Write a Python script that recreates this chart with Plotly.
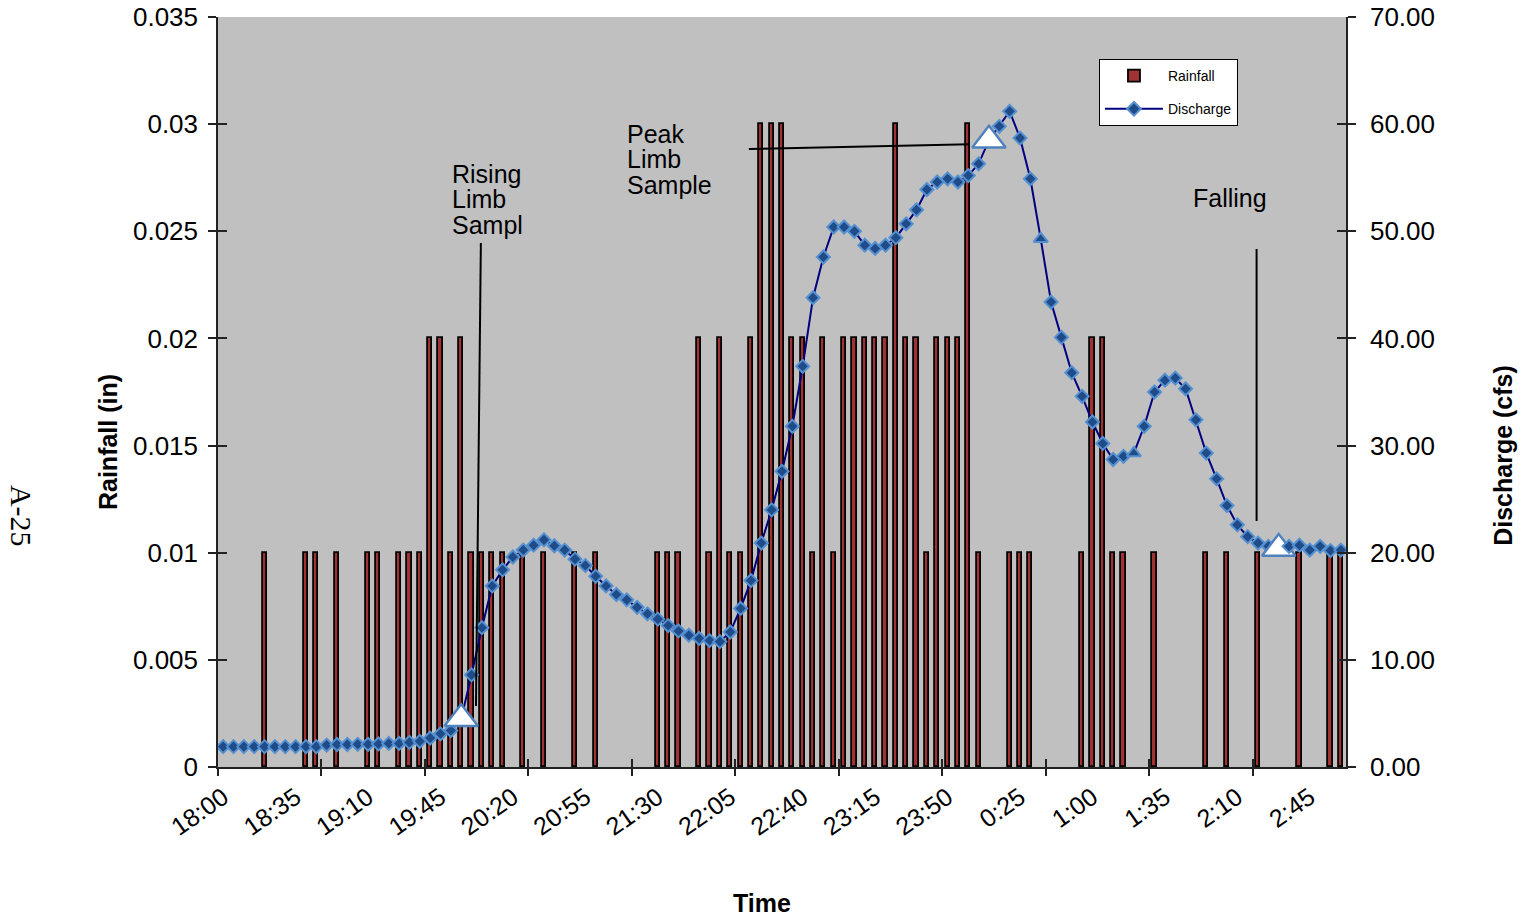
import plotly.graph_objects as go

# ---------------- data ----------------
# 5-minute categories from 18:00 to 3:00
times = [f"{((1080 + 5 * i) // 60) % 24}:{(1080 + 5 * i) % 60:02d}" for i in range(109)]

tick_labels = ["18:00", "18:35", "19:10", "19:45", "20:20", "20:55", "21:30", "22:05",
               "22:40", "23:15", "23:50", "0:25", "1:00", "1:35", "2:10", "2:45"]

rainfall_in = [
    0, 0, 0, 0, .01, 0, 0, 0, .01, .01,
    0, .01, 0, 0, .01, .01, 0, .01, .01, .01,
    .02, .02, .01, .02, .01, .01, .01, .01, 0, .01,
    0, .01, 0, 0, .01, 0, .01, 0, 0, 0,
    0, 0, .01, .01, .01, 0, .02, .01, .02, .01,
    .01, .02, .03, .03, .03, .02, .02, .01, .02, .01,
    .02, .02, .02, .02, .02, .03, .02, .02, .01, .02,
    .02, .02, .03, .01, 0, 0, .01, .01, .01, 0,
    0, 0, 0, .01, .02, .02, .01, .01, 0, 0,
    .01, 0, 0, 0, 0, .01, 0, .01, 0, 0,
    .01, 0, 0, 0, .01, 0, 0, .01, .01,
]

discharge_cfs = [
    1.9, 1.9, 1.9, 1.9, 1.9, 1.9, 1.9, 1.9, 1.9, 1.9,
    2.05, 2.1, 2.1, 2.12, 2.12, 2.15, 2.2, 2.2, 2.3, 2.4,
    2.7, 3.1, 3.4, 4.5, 8.6, 13.0, 16.9, 18.4, 19.6, 20.25,
    20.7, 21.2, 20.65, 20.25, 19.4, 18.8, 17.8, 16.9, 16.1, 15.6,
    14.9, 14.3, 13.8, 13.2, 12.7, 12.3, 12.0, 11.8, 11.7, 12.6,
    14.8, 17.4, 20.9, 24.0, 27.6, 31.8, 37.4, 43.8, 47.6, 50.4,
    50.4, 50.0, 48.7, 48.4, 48.7, 49.4, 50.7, 52.0, 53.9, 54.6,
    54.9, 54.6, 55.2, 56.3, 58.5, 59.8, 61.2, 58.7, 54.9, 49.3,
    43.4, 40.1, 36.8, 34.6, 32.2, 30.2, 28.7, 29.0, 29.3, 31.8,
    35.0, 36.1, 36.3, 35.3, 32.4, 29.3, 26.9, 24.4, 22.6, 21.5,
    20.9, 20.6, 20.4, 20.6, 20.7, 20.25, 20.6, 20.2, 20.25,
]

# sampling points (big white triangles) and two small triangle markers
sample_times = ["19:55", "0:10", "2:30"]
small_tri_times = ["0:35", "1:20"]

# ---------------- styling ----------------
FONT = "Liberation Sans, Arial, sans-serif"
BAR_FILL = "#A03232"
LINE_COL = "#000080"
DIA_FILL = "#1F4C88"
DIA_EDGE = "#5590D0"
TRI_EDGE = "#4F81BD"

symbols, sizes, fills, edges, ewidths = [], [], [], [], []
for t in times:
    if t in sample_times:
        symbols.append("triangle-up"); sizes.append(29); fills.append("white")
        edges.append(TRI_EDGE); ewidths.append(2.4)
    elif t in small_tri_times:
        symbols.append("triangle-up"); sizes.append(12.5); fills.append(DIA_FILL)
        edges.append(DIA_EDGE); ewidths.append(2)
    else:
        symbols.append("diamond"); sizes.append(10); fills.append(DIA_FILL)
        edges.append(DIA_EDGE); ewidths.append(2)

fig = go.Figure()

fig.add_trace(go.Bar(
    x=times, y=[v if v > 0 else None for v in rainfall_in], name="Rainfall", width=0.4,
    marker=dict(color=BAR_FILL, line=dict(color="black", width=1.8)),
    legendgroup="a", xaxis="x", yaxis="y",
))
fig.add_trace(go.Scatter(
    x=times, y=discharge_cfs, name="Discharge", mode="lines+markers",
    line=dict(color=LINE_COL, width=2),
    marker=dict(symbol=symbols, size=sizes, color=fills, opacity=1,
                line=dict(color=edges, width=ewidths)),
    legendgroup="b", xaxis="x", yaxis="y2",
))
# helper (empty) traces so overlay tick axes are drawn
for xa, ya in [("x2", "y"), ("x3", "y"), ("x2", "y3"), ("x2", "y4")]:
    fig.add_trace(go.Scatter(x=[None], y=[None], xaxis=xa, yaxis=ya,
                             showlegend=False, hoverinfo="skip", mode="markers"))

n = len(times)
xr = [-0.5, n - 0.5]
boundary_ticks = [i - 0.5 for i in range(0, n, 10)]
tickfont = dict(family=FONT, size=26, color="black")
AX = "#222222"
common = dict(showgrid=False, zeroline=False, automargin=False)

fig.update_layout(
    width=1526, height=920,
    margin=dict(l=218, r=180, t=17, b=153, autoexpand=False),
    paper_bgcolor="white", plot_bgcolor="#C0C0C0",
    font=dict(family=FONT, color="black"),
    bargap=0,
    xaxis=dict(type="category", categoryorder="array", categoryarray=times,
               range=xr, tickmode="array", tickvals=tick_labels, ticktext=tick_labels,
               ticks="", tickangle=-35, tickfont=dict(family=FONT, size=25, color="black"),
               showline=True, linecolor=AX, linewidth=2, ticklabelstandoff=4,
               anchor="y", **common),
    xaxis2=dict(overlaying="x", anchor="y", range=xr, tickmode="array",
                tickvals=boundary_ticks, ticks="outside", ticklen=8, tickwidth=1.5,
                tickcolor=AX, showticklabels=False, showline=False, side="bottom",
                **common),
    xaxis3=dict(overlaying="x", anchor="y", range=xr, tickmode="array",
                tickvals=boundary_ticks[1:], ticks="inside", ticklen=8, tickwidth=1.5,
                tickcolor=AX, showticklabels=False, showline=False, side="bottom",
                **common),
    yaxis=dict(range=[0, 0.035], dtick=0.005, tick0=0, ticks="outside", ticklen=8,
               tickwidth=1.5, tickcolor=AX, tickfont=tickfont, showline=True,
               linecolor=AX, linewidth=1.5, ticklabelstandoff=5, anchor="x",
               ticklabeloverflow="allow", **common),
    yaxis2=dict(overlaying="y", side="right", range=[0, 70], dtick=10, tick0=0,
                tickformat=".2f", ticks="outside", ticklen=8, tickwidth=1.5,
                tickcolor=AX, tickfont=tickfont, showline=True, linecolor=AX,
                linewidth=1.5, ticklabelstandoff=9, anchor="x",
                ticklabeloverflow="allow", **common),
    yaxis3=dict(overlaying="y", side="left", range=[0, 0.035], dtick=0.005, tick0=0,
                ticks="inside", ticklen=9, tickwidth=1.5, tickcolor=AX,
                showticklabels=False, showline=False, anchor="x2", **common),
    yaxis4=dict(overlaying="y", side="right", range=[0, 70], dtick=10, tick0=0,
                ticks="inside", ticklen=9, tickwidth=1.5, tickcolor=AX,
                showticklabels=False, showline=False, anchor="x2", **common),
    showlegend=True,
    legend=dict(x=0.781, y=0.944, xanchor="left", yanchor="top",
                bgcolor="white", bordercolor="black", borderwidth=1,
                font=dict(family=FONT, size=14, color="black"),
                itemwidth=58, tracegroupgap=12, traceorder="grouped"),
)

def big(s):
    return f"<span style='font-size:25px'>{s}</span>"

# multi-line labels: small base font keeps tight line pitch, spans keep big glyphs
blocks = [
    (["Rising", "Limb", "Sampl"], 22.0, 0.026483),
    (["Peak", "Limb", "Sample"], 38.92, 0.02835),
    (["Falling"], 93.57, 0.026553),
]
for lines_txt, xv, yv in blocks:
    fig.add_annotation(text="<br>".join(big(s) for s in lines_txt), x=xv, y=yv,
                       xref="x2", yref="y", xanchor="left", yanchor="middle",
                       align="left", showarrow=False, borderpad=0,
                       font=dict(family=FONT, size=19.5, color="black"))

callouts = [
    (24.9, 0.02445, 24.43, 0.00285),
    (50.8, 0.02884, 72.15, 0.02906),
    (99.86, 0.02417, 99.86, 0.01148),
]
for x0, y0, x1, y1 in callouts:
    fig.add_shape(type="line", x0=x0, y0=y0, x1=x1, y1=y1, xref="x2", yref="y",
                  line=dict(color="black", width=2))

title_font = dict(family=FONT, size=25, color="black")
fig.add_annotation(text="<b>Rainfall (in)</b>", x=-0.0975, y=0.4333, xref="paper",
                   yref="paper", textangle=-90, showarrow=False, font=title_font,
                   xanchor="center", yanchor="middle")
fig.add_annotation(text="<b>Discharge (cfs)</b>", x=1.139, y=0.416, xref="paper",
                   yref="paper", textangle=-90, showarrow=False, font=title_font,
                   xanchor="center", yanchor="middle")
fig.add_annotation(text="<b>Time</b>", x=0.4823, y=-0.1813, xref="paper",
                   yref="paper", showarrow=False, font=title_font,
                   xanchor="center", yanchor="middle")
fig.add_annotation(text="A-25", x=-0.1746, y=0.3347, xref="paper", yref="paper",
                   textangle=90, showarrow=False, xanchor="center", yanchor="middle",
                   font=dict(family="Liberation Serif, Times New Roman, serif",
                             size=30, color="black"))

fig.write_html(
    "out.html",
    config={"displayModeBar": False},
    post_script="document.body.style.margin='0';document.body.style.overflow='hidden';",
)
